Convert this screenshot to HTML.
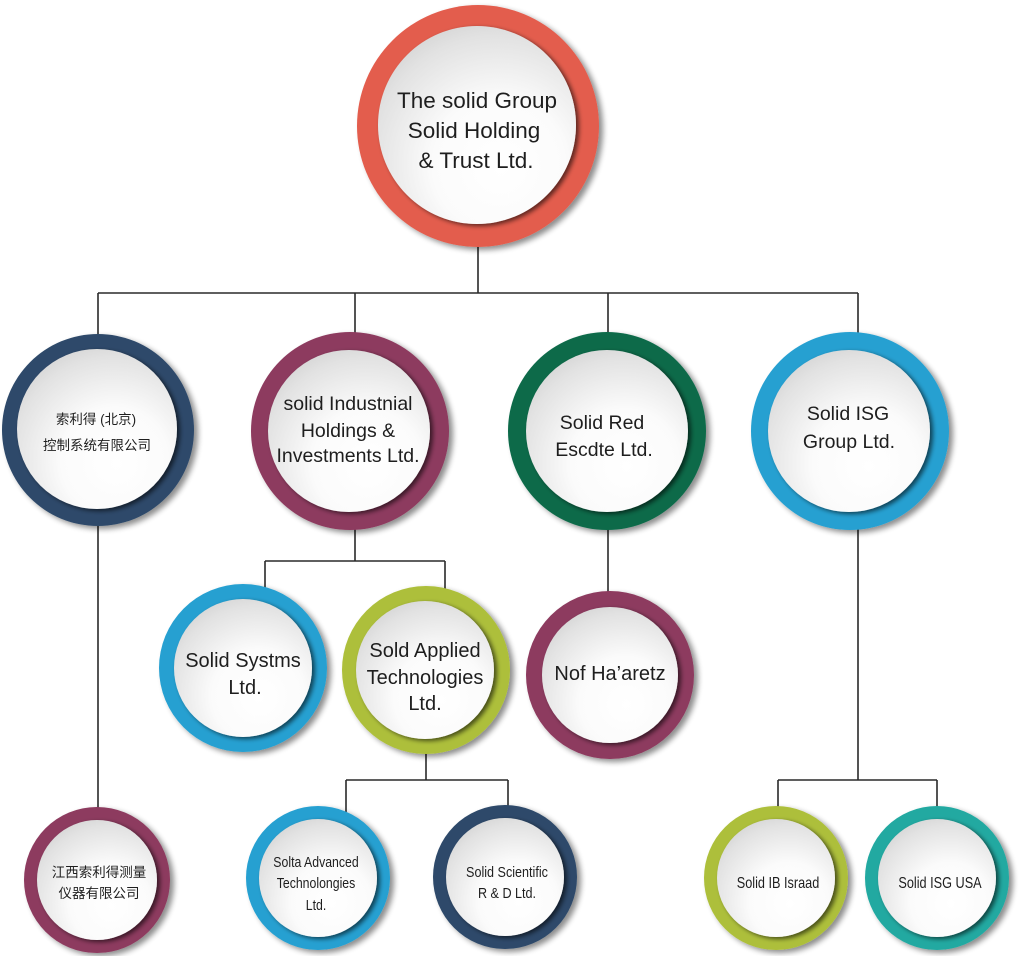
<!DOCTYPE html>
<html><head><meta charset="utf-8">
<style>
html,body{margin:0;padding:0;background:#fff;}
svg{display:block;}
text{font-family:"Liberation Sans","Noto Sans CJK SC",Arial,sans-serif;fill:#1e1e1e;text-anchor:middle;}
.cjk{font-family:"Liberation Sans","Noto Sans CJK SC","WenQuanYi Zen Hei",sans-serif;}
</style></head>
<body>
<svg width="1020" height="956" viewBox="0 0 1020 956" xmlns="http://www.w3.org/2000/svg">
<defs>
  <filter id="sh" x="-20%" y="-20%" width="150%" height="150%">
    <feGaussianBlur in="SourceAlpha" stdDeviation="3"/>
    <feOffset dx="4" dy="3" result="o"/>
    <feComponentTransfer><feFuncA type="linear" slope="0.45"/></feComponentTransfer>
    <feMerge><feMergeNode/><feMergeNode in="SourceGraphic"/></feMerge>
  </filter>
  <filter id="ish" x="-20%" y="-20%" width="150%" height="150%">
    <feGaussianBlur in="SourceAlpha" stdDeviation="2.5"/>
    <feOffset dx="3" dy="2" result="o"/>
    <feComponentTransfer><feFuncA type="linear" slope="0.6"/></feComponentTransfer>
    <feMerge><feMergeNode/><feMergeNode in="SourceGraphic"/></feMerge>
  </filter>
  <radialGradient id="disc" cx="0.6" cy="0.68" r="0.75" fx="0.62" fy="0.72">
    <stop offset="0" stop-color="#ffffff"/>
    <stop offset="0.45" stop-color="#fbfbfb"/>
    <stop offset="0.85" stop-color="#e2e2e2"/>
    <stop offset="1" stop-color="#d4d4d4"/>
  </radialGradient>
</defs>

<!-- connectors -->
<g stroke="#2a2a2a" stroke-width="1.6" fill="none">
  <path d="M478 240 V293 M98 293 H858 M98 293 V340 M355 293 V338 M608 293 V338 M858 293 V338"/>
  <path d="M98 520 V812"/>
  <path d="M355 525 V561 M265 561 H445 M265 561 V592 M445 561 V592"/>
  <path d="M608 525 V596"/>
  <path d="M426 750 V780 M346 780 H508 M346 780 V812 M508 780 V810"/>
  <path d="M858 525 V780 M778 780 H937 M778 780 V810 M937 780 V810"/>
</g>

<!-- nodes -->
<g>
  <!-- top -->
  <circle cx="478" cy="126" r="121" fill="#E35D4D" filter="url(#sh)"/>
  <circle cx="477" cy="125" r="99" fill="url(#disc)" filter="url(#ish)"/>
  <text x="477" y="108" font-size="22.5">The solid Group</text>
  <text x="474" y="138" font-size="22.5">Solid Holding</text>
  <text x="476" y="168" font-size="22.5">&amp; Trust Ltd.</text>

  <!-- navy -->
  <circle cx="98" cy="430" r="96" fill="#2D4A6A" filter="url(#sh)"/>
  <circle cx="97" cy="429" r="80" fill="url(#disc)" filter="url(#ish)"/>
  <text class="cjk" x="96" y="424" font-size="13.5">索利得 (北京)</text>
  <text class="cjk" x="97" y="450" font-size="13.5">控制系统有限公司</text>

  <!-- purple -->
  <circle cx="350" cy="431" r="99" fill="#8D3A5E" filter="url(#sh)"/>
  <circle cx="349" cy="431" r="81" fill="url(#disc)" filter="url(#ish)"/>
  <text x="348" y="410" font-size="19.5">solid Industnial</text>
  <text x="348" y="437" font-size="19.5">Holdings &amp;</text>
  <text x="348" y="462" font-size="19.5">Investments Ltd.</text>

  <!-- green -->
  <circle cx="607" cy="431" r="99" fill="#0B6B4A" filter="url(#sh)"/>
  <circle cx="607" cy="431" r="81" fill="url(#disc)" filter="url(#ish)"/>
  <text x="602" y="429" font-size="19.5">Solid Red</text>
  <text x="604" y="456" font-size="19.5">Escdte Ltd.</text>

  <!-- blue ISG -->
  <circle cx="850" cy="431" r="99" fill="#27A0D1" filter="url(#sh)"/>
  <circle cx="849" cy="431" r="81" fill="url(#disc)" filter="url(#ish)"/>
  <text x="848" y="420" font-size="19.5">Solid ISG</text>
  <text x="849" y="448" font-size="19.5">Group Ltd.</text>

  <!-- Solid Systms -->
  <circle cx="243" cy="668" r="84" fill="#27A0D1" filter="url(#sh)"/>
  <circle cx="243" cy="668" r="69" fill="url(#disc)" filter="url(#ish)"/>
  <text x="243" y="667" font-size="20">Solid Systms</text>
  <text x="245" y="694" font-size="20">Ltd.</text>

  <!-- Sold Applied -->
  <circle cx="426" cy="670" r="84" fill="#ADBF3A" filter="url(#sh)"/>
  <circle cx="425" cy="670" r="69" fill="url(#disc)" filter="url(#ish)"/>
  <text x="425" y="657" font-size="20">Sold Applied</text>
  <text x="425" y="684" font-size="20">Technologies</text>
  <text x="425" y="710" font-size="20">Ltd.</text>

  <!-- Nof -->
  <circle cx="610" cy="675" r="84" fill="#8D3A5E" filter="url(#sh)"/>
  <circle cx="610" cy="675" r="68" fill="url(#disc)" filter="url(#ish)"/>
  <text x="610" y="680" font-size="20">Nof Ha’aretz</text>

  <!-- 江西 -->
  <circle cx="97" cy="880" r="73" fill="#8D3A5E" filter="url(#sh)"/>
  <circle cx="97" cy="880" r="60" fill="url(#disc)" filter="url(#ish)"/>
  <text class="cjk" x="99" y="877" font-size="13.5">江西索利得测量</text>
  <text class="cjk" x="99" y="898" font-size="13.5">仪器有限公司</text>

  <!-- Solta -->
  <circle cx="318" cy="878" r="72" fill="#27A0D1" filter="url(#sh)"/>
  <circle cx="318" cy="878" r="59" fill="url(#disc)" filter="url(#ish)"/>
  <g transform="translate(316,0) scale(0.82,1)">
    <text x="0" y="867" font-size="15">Solta Advanced</text>
    <text x="0" y="888" font-size="15">Technolongies</text>
    <text x="0" y="910" font-size="15">Ltd.</text>
  </g>

  <!-- Scientific -->
  <circle cx="505" cy="877" r="72" fill="#2D4A6A" filter="url(#sh)"/>
  <circle cx="505" cy="877" r="59" fill="url(#disc)" filter="url(#ish)"/>
  <g transform="translate(507,0) scale(0.84,1)">
    <text x="0" y="877" font-size="15">Solid Scientific</text>
    <text x="0" y="898" font-size="15">R &amp; D Ltd.</text>
  </g>

  <!-- Solid IB -->
  <circle cx="776" cy="878" r="72" fill="#ADBF3A" filter="url(#sh)"/>
  <circle cx="776" cy="878" r="59" fill="url(#disc)" filter="url(#ish)"/>
  <g transform="translate(778,0) scale(0.82,1)">
    <text x="0" y="888" font-size="15.5">Solid IB Israad</text>
  </g>

  <!-- Solid ISG USA -->
  <circle cx="937" cy="878" r="72" fill="#21A9A1" filter="url(#sh)"/>
  <circle cx="937" cy="878" r="59" fill="url(#disc)" filter="url(#ish)"/>
  <g transform="translate(940,0) scale(0.82,1)">
    <text x="0" y="888" font-size="15.5">Solid ISG USA</text>
  </g>
</g>
</svg>
</body></html>
